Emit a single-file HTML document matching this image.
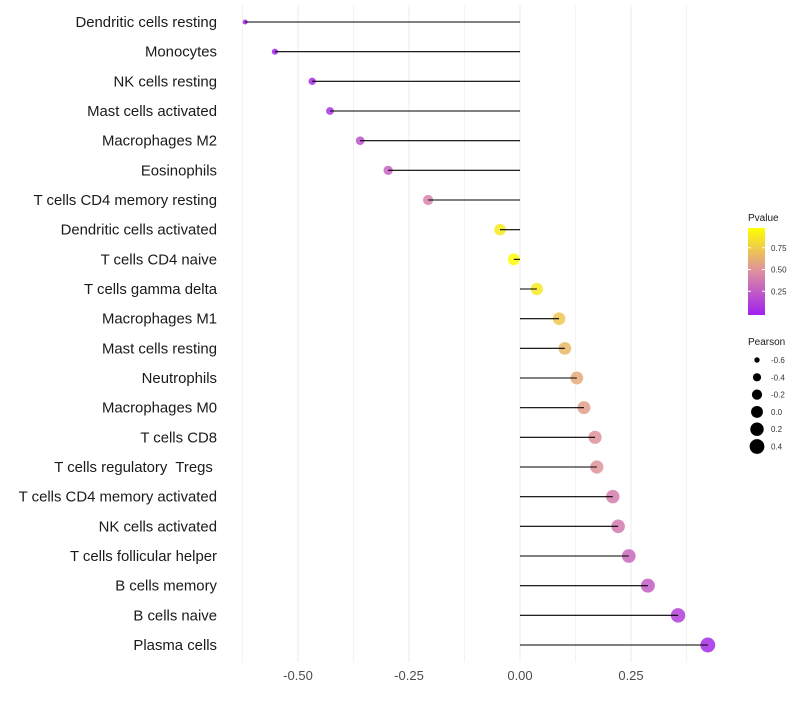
<!DOCTYPE html>
<html><head><meta charset="utf-8"><style>
html,body{margin:0;padding:0;background:#fff;}
svg{font-family:"Liberation Sans",sans-serif;}
text{white-space:pre;}
</style></head><body>
<svg id="chart" width="800" height="700"></svg>
<script>
const categories=["Dendritic cells resting","Monocytes","NK cells resting","Mast cells activated","Macrophages M2","Eosinophils","T cells CD4 memory resting","Dendritic cells activated","T cells CD4 naive","T cells gamma delta","Macrophages M1","Mast cells resting","Neutrophils","Macrophages M0","T cells CD8","T cells regulatory  Tregs ","T cells CD4 memory activated","NK cells activated","T cells follicular helper","B cells memory","B cells naive","Plasma cells"];
const pearson=[-0.619,-0.552,-0.468,-0.428,-0.360,-0.297,-0.207,-0.045,-0.014,0.038,0.088,0.101,0.128,0.144,0.169,0.173,0.209,0.221,0.245,0.288,0.356,0.423];
const pvalues=[0.01,0.02,0.05,0.1,0.22,0.3,0.45,0.9,0.98,0.9,0.75,0.68,0.62,0.57,0.52,0.52,0.42,0.4,0.33,0.27,0.15,0.05];
const xTicks=[-0.5,-0.25,0,0.25];
const xTickLabels=["-0.50","-0.25","0.00","0.25"];
const xMinor=[-0.625,-0.375,-0.125,0.125,0.375];
const pTicks=[0.25,0.5,0.75];
const sizeTicks=[-0.6,-0.4,-0.2,0.0,0.2,0.4];
const NS="http://www.w3.org/2000/svg";
const svg=document.getElementById('chart');
function x(v){return 520+v*444;}
function y(i){return 22+i*(623/21);}
function r(v){return Math.sqrt(Math.max(2,35.5+47*v));}
function lerp(a,b,t){return a.map((c,k)=>Math.round(c+(b[k]-c)*t));}
function col(p){const s=[[160,32,240],[221,143,160],[255,255,0]];let c=p<0.5?lerp(s[0],s[1],p/0.5):lerp(s[1],s[2],(p-0.5)/0.5);return `rgb(${c})`;}
function el(t,a,parent){const e=document.createElementNS(NS,t);for(const k in a)e.setAttribute(k,a[k]);(parent||svg).appendChild(e);return e;}
xMinor.forEach(v=>{const g=el('line',{x1:x(v),x2:x(v),y1:5,y2:662,stroke:'#f3f3f3','stroke-width':1});

});
xTicks.forEach((v,i)=>{const g=el('line',{x1:x(v),x2:x(v),y1:5,y2:662,stroke:'#ebebeb','stroke-width':1});


const t=el('text',{x:x(v),y:680,'text-anchor':'middle','font-size':13,fill:'#4d4d4d'});t.textContent=xTickLabels[i];

});
categories.forEach((c,i)=>{
const t=el('text',{x:217,y:y(i)+5,'text-anchor':'end','font-size':14.9,fill:'#1a1a1a'});t.textContent=c;


const p=el('circle',{cx:x(pearson[i]),cy:y(i),r:r(pearson[i]),fill:col(pvalues[i]),'fill-opacity':0.85});


const l=el('line',{x1:x(0),x2:x(pearson[i]),y1:y(i),y2:y(i),stroke:'#000','stroke-width':1.1});


});
const defs=el('defs',{});const lg=el('linearGradient',{id:'pg',x1:0,y1:1,x2:0,y2:0},defs);
[0,0.25,0.5,0.75,1].forEach(o=>el('stop',{offset:o,'stop-color':col(o)},lg));
const lt=el('text',{x:748,y:221,'font-size':10,fill:'#1a1a1a'});lt.textContent='Pvalue';


const bar=el('rect',{x:748,y:228,width:17,height:87,fill:'url(#pg)'});


pTicks.forEach(p=>{const yy=313-p*87;
el('line',{x1:748,x2:751,y1:yy,y2:yy,stroke:'#fff'});el('line',{x1:762,x2:765,y1:yy,y2:yy,stroke:'#fff'});
const t=el('text',{x:771,y:yy+3,'font-size':8,fill:'#333'});t.textContent=p.toFixed(2);

});
const st=el('text',{x:748,y:345,'font-size':10,fill:'#1a1a1a'});st.textContent='Pearson';


sizeTicks.forEach((v,i)=>{const yy=360+i*17.3;
const c=el('circle',{cx:757,cy:yy,r:r(v),fill:'#000'});


const t=el('text',{x:771,y:yy+3,'font-size':8,fill:'#333'});t.textContent=v.toFixed(1);

});
</script>
</body></html>
